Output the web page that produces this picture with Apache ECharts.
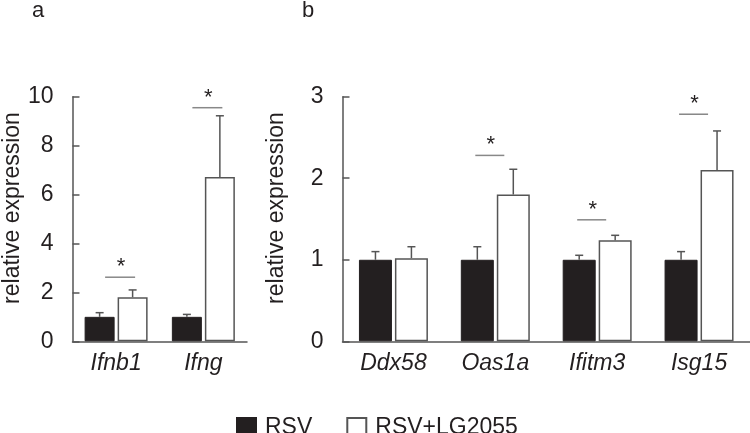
<!DOCTYPE html>
<html>
<head>
<meta charset="utf-8">
<script src="https://cdn.jsdelivr.net/npm/echarts@6/dist/echarts.min.js"></script>
<style>
  html, body { margin: 0; padding: 0; background: #fff; }
  #chart { width: 750px; height: 433px; }
</style>
</head>
<body>
<div id="chart"></div>
<script>
// panel a
const genesA = ['Ifnb1', 'Ifng'];
const rsvA = [1.0, 1.0];
const rsvUpperA = [1.17, 1.1];
const lgA = [1.8, 6.72];
const lgUpperA = [2.1, 9.22];
const sigA = [2.62, 9.55];
const ticksA = [0, 2, 4, 6, 8, 10];

// panel b
const genesB = ['Ddx58', 'Oas1a', 'Ifitm3', 'Isg15'];
const rsvB = [1.0, 1.0, 1.0, 1.0];
const rsvUpperB = [1.1, 1.16, 1.055, 1.1];
const lgB = [1.02, 1.8, 1.24, 2.1];
const lgUpperB = [1.16, 2.11, 1.3, 2.58];
const sigB = [null, 2.28, 1.49, 2.785];
const ticksB = [0, 1, 2, 3];

const seriesNames = ['RSV', 'RSV+LG2055'];

const FONT = '"Liberation Sans", Arial, sans-serif';
const INK = '#231f20';
const LINE = '#555';

const chart = echarts.init(document.getElementById('chart'), null, { renderer: 'canvas' });

function errorBars(barW, gap, side) {
	return function (params, api) {
		const base = api.coord([api.value(0), api.value(1)]);
		const top = api.coord([api.value(0), api.value(2)]);
		const x = base[0] + side * (barW / 2 + gap / 2);
		const style = { stroke: LINE, lineWidth: 1.5 };
		return {
			type: 'group',
			children: [
				{ type: 'line', shape: { x1: x, y1: base[1], x2: x, y2: top[1] }, style },
				{ type: 'line', shape: { x1: x - 4, y1: top[1], x2: x + 4, y2: top[1] }, style },
			],
		};
	};
}

function sigMarks(left, right) {
	return function (params, api) {
		const p = api.coord([api.value(0), api.value(1)]);
		const x1 = p[0] + left, x2 = p[0] + right;
		return {
			type: 'group',
			children: [
				{ type: 'line', shape: { x1, y1: p[1], x2, y2: p[1] }, style: { stroke: '#888', lineWidth: 1.5 } },
				{ type: 'text', x: (x1 + x2) / 2 + 1, y: p[1] + 1, style: { text: '*', font: '22px ' + FONT, fill: INK, align: 'center', verticalAlign: 'bottom' } },
			],
		};
	};
}

function yAxisFor(idx, ticks, gap) {
	return {
		gridIndex: idx,
		type: 'value',
		min: ticks[0],
		max: ticks[ticks.length - 1],
		interval: ticks[1] - ticks[0],
		name: 'relative expression',
		nameLocation: 'middle',
		nameGap: gap,
		nameTextStyle: { fontFamily: FONT, fontSize: 23, color: INK, padding: [0, 0, 0, 22] },
		axisLine: { show: true, lineStyle: { color: LINE, width: 1.5 } },
		axisTick: { show: true, inside: true, length: 7, lineStyle: { color: LINE, width: 1.5 } },
		axisLabel: { fontFamily: FONT, fontSize: 23, color: INK, margin: 19 },
		splitLine: { show: false },
	};
}

function xAxisFor(idx, cats) {
	return {
		gridIndex: idx,
		type: 'category',
		data: cats,
		axisLine: { lineStyle: { color: LINE, width: 1.5 } },
		axisTick: { show: false },
		axisLabel: { fontFamily: FONT, fontSize: 23, fontStyle: 'italic', color: INK, margin: 11 },
	};
}

const blackStyle = { color: INK, borderColor: INK, borderWidth: 1 };
const whiteStyle = { color: '#fff', borderColor: LINE, borderWidth: 1.5 };

function panelSeries(idx, vals, uppers, lgVals, lgUppers, sig, barW, gapPct, sigL, sigR) {
	const gap = barW * gapPct / 100;
	return [
		{ name: seriesNames[0], type: 'bar', xAxisIndex: idx, yAxisIndex: idx, data: vals, barWidth: barW, barGap: gapPct + '%', itemStyle: blackStyle },
		{ name: seriesNames[1], type: 'bar', xAxisIndex: idx, yAxisIndex: idx, data: lgVals, barWidth: barW, barGap: gapPct + '%', itemStyle: whiteStyle },
		{ type: 'custom', xAxisIndex: idx, yAxisIndex: idx, renderItem: errorBars(barW, gap, -1), data: vals.map((v, i) => [i, v, uppers[i]]), z: 5 },
		{ type: 'custom', xAxisIndex: idx, yAxisIndex: idx, renderItem: errorBars(barW, gap, 1), data: lgVals.map((v, i) => [i, v, lgUppers[i]]), z: 5 },
		{ type: 'custom', xAxisIndex: idx, yAxisIndex: idx, renderItem: sigMarks(sigL, sigR), data: sig.map((s, i) => [i, s]).filter((d) => d[1] !== null), z: 5 },
	];
}

chart.setOption({
	backgroundColor: '#fff',
	animation: false,
	title: [
		{ text: 'a', left: 32, top: 0, padding: 0, textStyle: { fontFamily: FONT, fontSize: 22, fontWeight: 'normal', color: INK } },
		{ text: 'b', left: 302, top: 0, padding: 0, textStyle: { fontFamily: FONT, fontSize: 22, fontWeight: 'normal', color: INK } },
	],
	legend: {
		data: seriesNames,
		left: 231,
		top: 411,
		icon: 'rect',
		itemWidth: 19,
		itemHeight: 19,
		itemGap: 34,
		textStyle: { fontFamily: FONT, fontSize: 23, color: INK, padding: [0, 0, 0, 4] },
	},
	grid: [
		{ left: 67, right: 503, top: 96.7, bottom: 91.7 },
		{ left: 342.5, right: 0, top: 96.7, bottom: 91.7 },
	],
	xAxis: [xAxisFor(0, genesA), xAxisFor(1, genesB)],
	yAxis: [yAxisFor(0, ticksA, 44), yAxisFor(1, ticksB, 54)],
	series: [
		...panelSeries(0, rsvA, rsvUpperA, lgA, lgUpperA, sigA, 30, 10, -11, 19),
		...panelSeries(1, rsvB, rsvUpperB, lgB, lgUpperB, sigB, 33, 9, -20, 9),
	],
});

window.addEventListener('resize', () => chart.resize());
</script>
</body>
</html>
